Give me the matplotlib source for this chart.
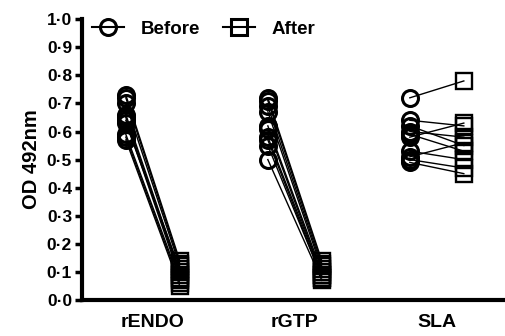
import numpy as np
import matplotlib
matplotlib.use("Agg")
import matplotlib.pyplot as plt
from matplotlib.lines import Line2D

# OD values per subject, before and after absorption
groups = ["rENDO", "rGTP", "SLA"]
rendo_before = [0.73, 0.72, 0.70, 0.66, 0.65, 0.64, 0.63, 0.59, 0.58, 0.57]
rendo_after = [0.14, 0.13, 0.12, 0.10, 0.09, 0.08, 0.11, 0.07, 0.06, 0.05]
rgtp_before = [0.72, 0.71, 0.69, 0.67, 0.62, 0.61, 0.58, 0.57, 0.55, 0.50]
rgtp_after = [0.14, 0.13, 0.12, 0.11, 0.10, 0.09, 0.09, 0.08, 0.08, 0.07]
sla_before = [0.72, 0.64, 0.62, 0.60, 0.59, 0.58, 0.53, 0.51, 0.50, 0.49]
sla_after = [0.78, 0.62, 0.55, 0.58, 0.53, 0.63, 0.50, 0.56, 0.47, 0.45]
yticks = np.arange(0, 1.01, 0.1)

plt.rcParams['font.family'] = ['Liberation Sans', 'DejaVu Sans']
plt.rcParams['font.weight'] = 'bold'

fig = plt.figure(figsize=(5.05, 3.36), dpi=100)
ax = fig.add_axes([0.162, 0.107, 0.838, 0.836])

pairs = [(rendo_before, rendo_after), (rgtp_before, rgtp_after), (sla_before, sla_after)]
off = 0.19
for i, (b, a) in enumerate(pairs):
    for yb, ya in zip(b, a):
        ax.plot([i - off, i + off], [yb, ya], color='black', lw=1.0, zorder=1)
    ax.plot([i - off] * len(b), b, 'o', ms=11.5, mfc='none', mec='black', mew=2.2, zorder=2)
    ax.plot([i + off] * len(a), a, 's', ms=11.5, mfc='none', mec='black', mew=1.7, zorder=2)

ax.set_xlim(-0.5, 2.48)
ax.set_ylim(0, 1.0)
ax.set_yticks(yticks)
ax.set_yticklabels([f"{v:.1f}".replace('.', '\u00b7') for v in yticks], fontsize=12.5, fontweight='bold')
ax.set_xticks(range(len(groups)))
ax.set_xticklabels(groups, fontsize=14, fontweight='bold')
ax.tick_params(axis='x', length=0, pad=10)
ax.tick_params(axis='y', length=5, width=2.5, pad=2)
ax.set_ylabel("OD 492nm", fontsize=14.5, fontweight='bold', labelpad=4)

for s in ['top', 'right']:
    ax.spines[s].set_visible(False)
for s in ['left', 'bottom']:
    ax.spines[s].set_linewidth(3)

handles = [
    Line2D([0], [0], color='black', lw=1.5, marker='o', ms=11.5, mfc='none', mew=2.2),
    Line2D([0], [0], color='black', lw=1.5, marker='s', ms=11.5, mfc='none', mew=2.2),
]
ax.legend(handles, ["Before", "After"], ncol=2, loc='upper left', frameon=False,
          prop={'size': 13.5, 'weight': 'bold'}, bbox_to_anchor=(-0.015, 1.055),
          handlelength=1.7, columnspacing=1.2, handletextpad=0.9)

fig.savefig("out.png", dpi=100)
